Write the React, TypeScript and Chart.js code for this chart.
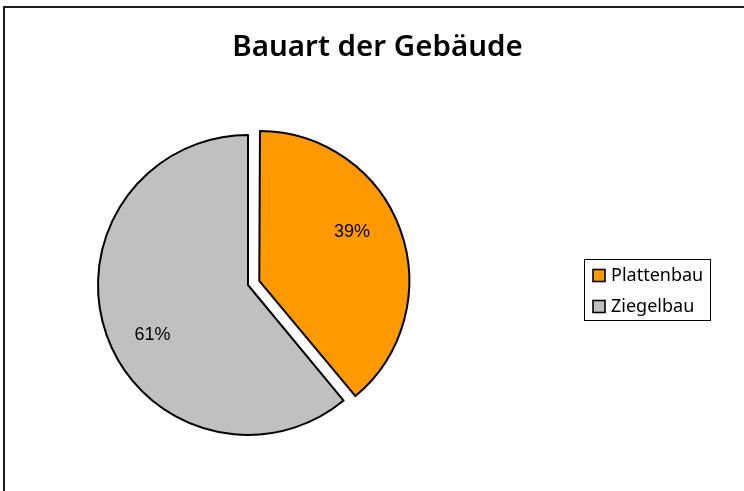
import { useEffect, useRef } from "react";
import { Chart, registerables } from "chart.js";

Chart.register(...registerables);

const TITLE = "Bauart der Gebäude";
const CATEGORIES = ["Plattenbau", "Ziegelbau"];
const SHARES = [39, 61];
const COLORS = ["#FF9900", "#C0C0C0"];
const EXPLODE = [48, 0];

const W = 744;
const H = 491;

const framePlugin = {
  id: "frame",
  beforeDraw(chart: any) {
    const { ctx, width, height } = chart;
    ctx.save();
    ctx.fillStyle = "#ffffff";
    ctx.fillRect(0, 0, width, height);
    ctx.strokeStyle = "#1e1e1e";
    ctx.lineWidth = 2;
    ctx.strokeRect(4, 7, width + 20, height + 20);
    ctx.restore();
  },
};

const placePiePlugin = {
  id: "placePie",
  afterLayout(chart: any) {
    const cx = 248;
    const cy = 285;
    const half = 200;
    Object.assign(chart.chartArea, {
      left: cx - half,
      right: cx + half,
      top: cy - half,
      bottom: cy + half,
      width: half * 2,
      height: half * 2,
    });
  },
  afterDatasetsUpdate(chart: any) {
    // keep exploded slices at the same radius as the others
    const meta = chart.getDatasetMeta(0);
    meta.data.forEach((arc: any) => {
      const off = (arc.options?.offset || 0) / 4;
      if (!off) return;
      const circ = arc.circumference || 0;
      const fix = 1 - Math.sin(Math.min(Math.PI, circ));
      arc.outerRadius = arc.outerRadius - off * fix;
    });
  },
};

const pctLabelPlugin = {
  id: "pctLabels",
  afterDatasetsDraw(chart: any) {
    const { ctx } = chart;
    const meta = chart.getDatasetMeta(0);
    const data: number[] = chart.data.datasets[0].data;
    const total = data.reduce((a, b) => a + b, 0);
    ctx.save();
    ctx.font = '18px "Liberation Sans", Arial, sans-serif';
    ctx.fillStyle = "#000";
    ctx.textAlign = "center";
    ctx.textBaseline = "middle";
    meta.data.forEach((arc: any, i: number) => {
      const p = arc.getProps(["x", "y", "startAngle", "endAngle", "outerRadius"], true);
      const off = (arc.options.offset || 0) / 4;
      const mid = (p.startAngle + p.endAngle) / 2;
      const ox = p.x + Math.cos(mid) * off;
      const oy = p.y + Math.sin(mid) * off;
      const a = mid - (8 * Math.PI) / 180;
      const r = p.outerRadius * 0.72;
      const pct = Math.round((data[i] / total) * 100) + "%";
      ctx.fillText(pct, ox + Math.cos(a) * r, oy + Math.sin(a) * r);
    });
    ctx.restore();
  },
};

const legendBoxPlugin = {
  id: "legendBox",
  afterDraw(chart: any) {
    const { ctx } = chart;
    const labels: string[] = chart.data.labels;
    const colors: string[] = chart.data.datasets[0].backgroundColor;
    const left = 584.5;
    const top = 259.5;
    const boxW = 126;
    const boxH = 61;
    ctx.save();
    ctx.strokeStyle = "#000";
    ctx.lineWidth = 1;
    ctx.strokeRect(left, top, boxW, boxH);
    ctx.font = '18px "Noto Sans", sans-serif';
    ctx.textBaseline = "middle";
    ctx.textAlign = "left";
    labels.forEach((lab, i) => {
      const cy = top + 16 + i * 31;
      ctx.fillStyle = colors[i];
      ctx.fillRect(593, cy - 6, 12, 12);
      ctx.lineWidth = 1.6;
      ctx.strokeStyle = "#000";
      ctx.strokeRect(593, cy - 6, 12, 12);
      ctx.fillStyle = "#000";
      ctx.fillText(lab, 611, cy);
    });
    ctx.restore();
  },
};

export default function App() {
  const ref = useRef<HTMLCanvasElement | null>(null);

  useEffect(() => {
    const prevMargin = document.body.style.margin;
    document.body.style.margin = "0";
    const canvas = ref.current;
    if (!canvas) return;
    const chart = new Chart(canvas, {
      type: "pie",
      data: {
        labels: CATEGORIES,
        datasets: [
          {
            data: SHARES,
            backgroundColor: COLORS,
            borderColor: "#000000",
            borderWidth: 2,
            borderJoinStyle: "round",
            offset: EXPLODE,
            hoverOffset: 0,
          } as any,
        ],
      },
      options: {
        responsive: false,
        animation: false,
        devicePixelRatio: 1,
        radius: 150,
        layout: { padding: { left: 11, right: 0, top: 0, bottom: 0 } },
        plugins: {
          title: {
            display: true,
            text: TITLE,
            color: "#000",
            font: { family: '"Noto Sans", sans-serif', size: 29.5, weight: "600", lineHeight: 1.2 },
            padding: { top: 30, bottom: 10 },
          },
          legend: { display: false },
          tooltip: { enabled: false },
        },
      } as any,
      plugins: [framePlugin, placePiePlugin, pctLabelPlugin, legendBoxPlugin],
    });
    return () => {
      chart.destroy();
      document.body.style.margin = prevMargin;
    };
  }, []);

  return (
    <div style={{ position: "fixed", left: 0, top: 0, width: W, height: H, overflow: "hidden", background: "#fff" }}>
      <canvas ref={ref} width={W} height={H} style={{ display: "block", width: W, height: H }} />
    </div>
  );
}
